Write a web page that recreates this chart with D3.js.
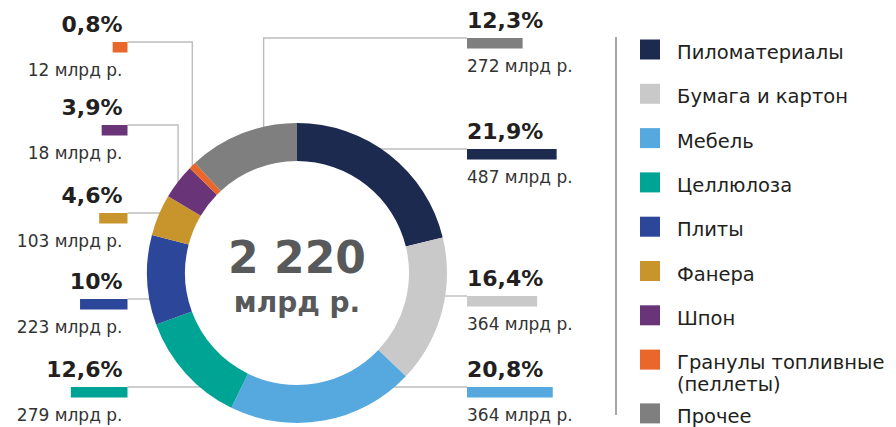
<!DOCTYPE html>
<html>
<head>
<meta charset="utf-8">
<script src="https://cdn.jsdelivr.net/npm/d3@7"></script>
<style>
  html, body { margin: 0; padding: 0; background: #fff; }
  svg { display: block; font-family: "DejaVu Sans", sans-serif; }
</style>
</head>
<body>
<svg id="chart" width="896" height="427"></svg>
<script>
// ---- data ----
const categories = ["Пиломатериалы", "Бумага и картон", "Мебель", "Целлюлоза", "Плиты", "Фанера", "Шпон", "Гранулы топливные (пеллеты)", "Прочее"];
const legendLabels = ["Пиломатериалы", "Бумага и картон", "Мебель", "Целлюлоза", "Плиты", "Фанера", "Шпон", "Гранулы топливные\n(пеллеты)", "Прочее"];
const shares = [21.9, 16.4, 20.8, 12.6, 10, 4.6, 3.9, 0.8, 12.3];
const shareLabels = ["21,9%", "16,4%", "20,8%", "12,6%", "10%", "4,6%", "3,9%", "0,8%", "12,3%"];
const amounts = [487, 364, 364, 279, 223, 103, 18, 12, 272];
const amountUnit = "млрд р.";
const colors = ["#1c2a50", "#c9c9c9", "#55a9df", "#00a494", "#2c469a", "#c8952d", "#6a3479", "#e9672a", "#7f7f7f"];
const totalLabel = "2 220";
const totalUnit = "млрд р.";

// ---- layout (not data) ----
const labelLayout = [
  { side: "right", y: 149 },
  { side: "right", y: 296 },
  { side: "right", y: 387 },
  { side: "left", y: 387 },
  { side: "left", y: 299 },
  { side: "left", y: 213 },
  { side: "left", y: 125, elbow: 0.5 },
  { side: "left", y: 42, elbow: 0.5 },
  { side: "right", y: 38, elbow: 0.7 }
];

const svg = d3.select("#chart");
const cx = 297, cy = 273, R = 150, r = 112;
const rightX = 467, leftX = 127.5, barH = 10.5;

const data = categories.map((c, i) => ({
  name: c, share: shares[i], label: shareLabels[i], amount: amounts[i], color: colors[i], layout: labelLayout[i]
}));

const pie = d3.pie().sort(null).value(d => d.share);
const arcs = pie(data);
const arc = d3.arc().innerRadius(r).outerRadius(R);
const barW = d3.scaleLinear().domain([0, 22]).range([12, 90]);

// connectors (beneath ring)
const conn = svg.append("g").attr("fill", "none").attr("stroke", "#bdbdbd").attr("stroke-width", 1.4);
arcs.forEach(a => {
  const L = a.data.layout;
  const barEdge = L.side === "right" ? rightX : leftX;
  let pts;
  if (L.elbow !== undefined) {
    const ang = a.startAngle + L.elbow * (a.endAngle - a.startAngle);
    const vx = cx + R * Math.sin(ang);
    const vy = cy - Math.sqrt(Math.max(0, (R - 4) ** 2 - (vx - cx) ** 2));
    pts = [[barEdge, L.y], [vx, L.y], [vx, vy]];
  } else {
    const dx = Math.sqrt(Math.max(0, (R - 4) ** 2 - (L.y - cy) ** 2));
    const ex = L.side === "right" ? cx + dx : cx - dx;
    pts = [[barEdge, L.y], [ex, L.y]];
  }
  conn.append("path").attr("d", d3.line()(pts));
});

// ring
svg.append("g").attr("transform", `translate(${cx},${cy})`)
  .selectAll("path").data(arcs).join("path")
  .attr("d", arc).attr("fill", d => d.data.color);

// center text
svg.append("text").attr("x", cx).attr("y", 273).attr("text-anchor", "middle")
  .attr("font-size", 44).attr("font-weight", "bold").attr("fill", "#58595b").text(totalLabel);
svg.append("text").attr("x", cx).attr("y", 312).attr("text-anchor", "middle")
  .attr("font-size", 28).attr("font-weight", "bold").attr("fill", "#58595b").text(totalUnit);

// labels
const lab = svg.append("g");
data.forEach(d => {
  const L = d.layout;
  const w = barW(d.share);
  const right = L.side === "right";
  lab.append("rect")
    .attr("x", right ? rightX : leftX - w).attr("y", L.y)
    .attr("width", w).attr("height", barH).attr("fill", d.color);
  const tx = right ? rightX : leftX - 5;
  const anchor = right ? "start" : "end";
  lab.append("text").attr("x", tx).attr("y", L.y - 10).attr("text-anchor", anchor)
    .attr("font-size", 22).attr("font-weight", "bold").attr("fill", "#231f20").text(d.label);
  lab.append("text").attr("x", tx).attr("y", L.y + 34).attr("text-anchor", anchor)
    .attr("font-size", 17).attr("fill", "#333").text(`${d.amount} ${amountUnit}`);
});

// legend
const lg = svg.append("g");
lg.append("line").attr("x1", 616).attr("x2", 616).attr("y1", 37).attr("y2", 415)
  .attr("stroke", "#8a8a8a").attr("stroke-width", 1.5);
let y = 39.5;
legendLabels.forEach((t, i) => {
  const lines = t.split("\n");
  lg.append("rect").attr("x", 640).attr("y", y).attr("width", 20).attr("height", 20).attr("fill", colors[i]);
  const txt = lg.append("text").attr("x", 677).attr("y", y + 19.5).attr("font-size", 19.5).attr("fill", "#231f20");
  lines.forEach((ln, j) => txt.append("tspan").attr("x", 677).attr("dy", j === 0 ? 0 : 22).text(ln));
  y += 44.3 + (lines.length - 1) * 9.5;
});
</script>
</body>
</html>
